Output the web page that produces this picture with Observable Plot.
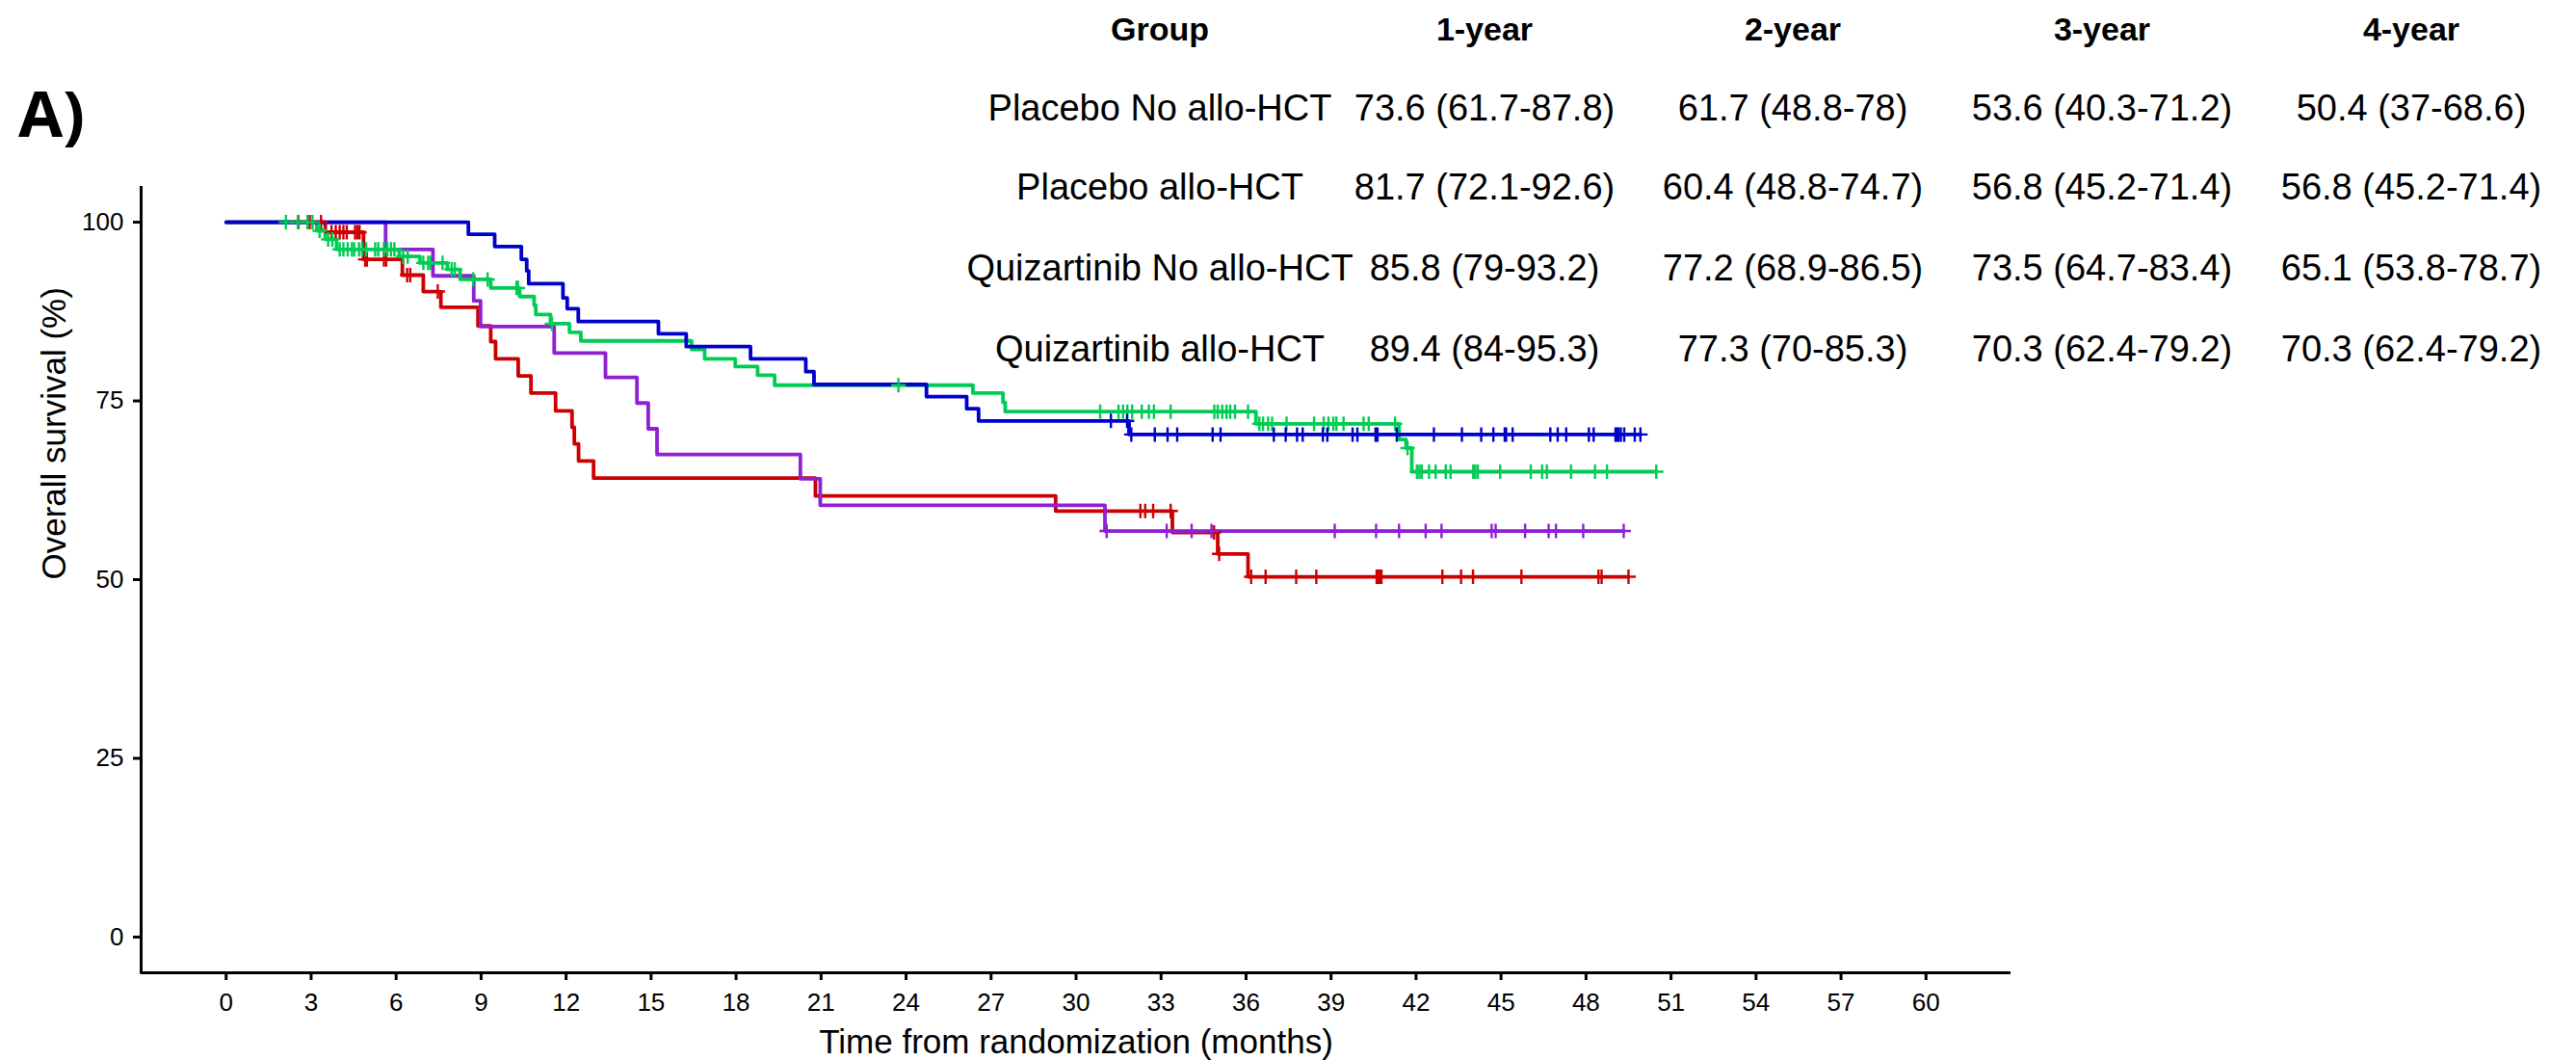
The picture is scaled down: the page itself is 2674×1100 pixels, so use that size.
<!DOCTYPE html>
<html>
<head>
<meta charset="utf-8">
<script src="https://cdn.jsdelivr.net/npm/d3@7"></script>
<script src="https://cdn.jsdelivr.net/npm/@observablehq/plot@0.6"></script>
<style>
  html, body { margin: 0; padding: 0; background: #fff; }
  #chart { width: 2674px; height: 1100px; }
</style>
</head>
<body>
<div id="chart"></div>
<script>
// Kaplan–Meier overall survival by arm and transplant status

const groups = ["Placebo No allo-HCT", "Placebo allo-HCT", "Quizartinib No allo-HCT", "Quizartinib allo-HCT"];
const colors = ["#CC0000", "#8F20D4", "#00CC55", "#0000CC"];

// Event times (months) and survival (%) after each event
const placeboNoHctTimes = [3.5, 4.85, 6.22, 6.96, 7.58, 8.89, 9.34, 9.51, 10.31, 10.76, 11.63, 12.21, 12.29, 12.44, 12.97, 20.8, 29.28, 33.4, 35.0, 36.07];
const placeboNoHctSurv  = [98.6, 94.8, 92.6, 90.3, 88.1, 85.5, 83.3, 80.9, 78.5, 76.1, 73.6, 71.3, 69.0, 66.6, 64.2, 61.7, 59.6, 56.6, 53.6, 50.4];
const placeboNoHctCens  = [2.55, 2.95, 3.35, 3.72, 3.87, 4.01, 4.14, 4.26, 4.55, 4.63, 4.71, 4.91, 4.97, 5.57, 5.65, 6.39, 6.5, 7.47, 32.27, 32.44, 32.72, 33.34, 34.87, 35.05, 36.18, 36.69, 37.77, 38.48, 40.61, 40.67, 40.72, 40.78, 42.93, 43.59, 44.01, 45.72, 48.44, 48.55, 49.5];

const placeboHctTimes = [5.63, 7.3, 8.74, 8.98, 11.58, 13.39, 14.5, 14.9, 15.21, 20.27, 20.97, 31.02];
const placeboHctSurv  = [96.2, 92.5, 89.0, 85.4, 81.7, 78.3, 74.7, 71.1, 67.5, 64.1, 60.4, 56.8];
const placeboHctCens  = [31.08, 33.2, 34.08, 34.78, 39.13, 40.59, 41.4, 42.34, 42.9, 44.67, 44.81, 45.85, 46.68, 46.94, 47.9, 49.33];

const quizNoHctTimes = [3.2, 3.5, 3.9, 6.11, 6.84, 7.81, 8.26, 9.34, 10.36, 10.87, 10.93, 11.45, 12.12, 12.52, 16.43, 16.89, 17.97, 18.76, 19.36, 26.36, 27.42, 27.5, 36.35, 41.4, 41.65, 41.85];
const quizNoHctSurv  = [98.8, 97.6, 96.2, 95.2, 94.3, 93.4, 92.0, 90.8, 89.6, 88.4, 87.1, 85.8, 84.6, 83.4, 82.2, 80.9, 79.8, 78.6, 77.2, 76.1, 74.8, 73.5, 71.8, 69.6, 68.4, 65.1];
const quizNoHctCens  = [2.11, 2.53, 2.87, 3.05, 3.3, 3.6, 3.75, 4.01, 4.14, 4.29, 4.44, 4.52, 4.69, 4.8, 4.94, 5.26, 5.37, 5.57, 5.69, 5.82, 5.94, 6.25, 6.41, 6.96, 7.13, 7.21, 7.64, 7.96, 8.07, 8.72, 9.23, 10.25, 10.3, 11.5, 23.73, 30.85, 31.5, 31.66, 31.81, 31.98, 32.32, 32.57, 32.75, 33.34, 34.88, 35.0, 35.16, 35.31, 35.44, 35.61, 36.07, 36.47, 36.6, 36.78, 36.92, 37.43, 38.4, 38.74, 38.91, 39.08, 39.19, 39.44, 40.15, 40.33, 41.26, 41.7, 42.03, 42.12, 42.2, 42.46, 42.69, 43.05, 43.22, 44.02, 44.09, 44.18, 44.97, 46.05, 46.45, 46.62, 47.47, 48.32, 48.74, 50.48];

const quizHctTimes = [8.55, 9.48, 10.42, 10.61, 10.68, 11.89, 12.04, 12.43, 15.26, 16.24, 18.51, 20.46, 20.75, 24.72, 26.14, 26.56, 31.87];
const quizHctSurv  = [98.3, 96.6, 94.8, 93.2, 91.4, 89.4, 87.9, 86.1, 84.4, 82.6, 80.9, 79.1, 77.3, 75.6, 73.9, 72.2, 70.3];
const quizHctCens  = [31.23, 31.8, 31.95, 32.78, 33.23, 33.57, 34.82, 35.1, 36.98, 37.4, 37.8, 38.0, 38.71, 38.87, 39.76, 39.93, 40.57, 40.64, 41.32, 42.63, 43.62, 44.3, 44.73, 45.13, 45.18, 45.41, 46.74, 47.0, 47.3, 48.1, 48.27, 49.04, 49.1, 49.15, 49.23, 49.35, 49.72, 49.92];

// Landmark survival table: estimate (95% CI)
const tableHeaders = ["Group", "1-year", "2-year", "3-year", "4-year"];
const tableRows = [
  ["Placebo No allo-HCT", "73.6 (61.7-87.8)", "61.7 (48.8-78)", "53.6 (40.3-71.2)", "50.4 (37-68.6)"],
  ["Placebo allo-HCT", "81.7 (72.1-92.6)", "60.4 (48.8-74.7)", "56.8 (45.2-71.4)", "56.8 (45.2-71.4)"],
  ["Quizartinib No allo-HCT", "85.8 (79-93.2)", "77.2 (68.9-86.5)", "73.5 (64.7-83.4)", "65.1 (53.8-78.7)"],
  ["Quizartinib allo-HCT", "89.4 (84-95.3)", "77.3 (70-85.3)", "70.3 (62.4-79.2)", "70.3 (62.4-79.2)"]
];

const xTicks = d3.range(0, 61, 3);
const yTicks = [0, 25, 50, 75, 100];
const xTitle = "Time from randomization (months)";
const yTitle = "Overall survival (%)";
const panelLabel = "A)";

const series = [
  {group: groups[0], times: placeboNoHctTimes, surv: placeboNoHctSurv, cens: placeboNoHctCens},
  {group: groups[1], times: placeboHctTimes, surv: placeboHctSurv, cens: placeboHctCens},
  {group: groups[2], times: quizNoHctTimes, surv: quizNoHctSurv, cens: quizNoHctCens},
  {group: groups[3], times: quizHctTimes, surv: quizHctSurv, cens: quizHctCens}
];

// Step-function rows and censor marks (censor height = survival at that time)
const stepRows = [];
const censorRows = [];
for (const s of series) {
  const last = Math.max(d3.max(s.times), d3.max(s.cens));
  stepRows.push({group: s.group, time: 0, surv: 100});
  s.times.forEach((t, i) => stepRows.push({group: s.group, time: t, surv: s.surv[i]}));
  stepRows.push({group: s.group, time: last, surv: s.surv[s.surv.length - 1]});
  for (const c of s.cens) {
    const k = d3.bisectRight(s.times, c);
    censorRows.push({group: s.group, time: c, surv: k === 0 ? 100 : s.surv[k - 1]});
  }
}

// "+" censor glyph drawn with strokes; arm length equals r
const plusSymbol = {
  draw(context, size) {
    const r = Math.sqrt(size / Math.PI);
    context.moveTo(-r, 0); context.lineTo(r, 0);
    context.moveTo(0, -r); context.lineTo(0, r);
  }
};

const font = "'Liberation Sans', Arial, Helvetica, sans-serif";

const chart = Plot.plot({
  width: 2674,
  height: 1100,
  marginLeft: 146,
  marginRight: 587,
  marginTop: 193,
  marginBottom: 91,
  style: {fontFamily: font, fontSize: "26px", color: "#000", background: "#fff", overflow: "visible"},
  x: {domain: [-3, 63]},
  y: {domain: [-5, 105]},
  color: {domain: groups, range: colors},
  marks: [
    Plot.axisX({ticks: xTicks, tickSize: 8, tickPadding: 13, strokeWidth: 3, fontSize: 26, label: null}),
    Plot.axisY({ticks: yTicks, tickSize: 8, tickPadding: 10, strokeWidth: 3, fontSize: 26, label: null}),
    Plot.ruleX([-3], {strokeWidth: 3, insetBottom: -1.5}),
    Plot.ruleY([-5], {strokeWidth: 3}),
    Plot.line(stepRows, {x: "time", y: "surv", z: "group", stroke: "group", curve: "step-after", strokeWidth: 3.8}),
    Plot.dot(censorRows, {x: "time", y: "surv", stroke: "group", fill: "none", symbol: plusSymbol, r: 7.5, strokeWidth: 2.4}),
    Plot.text([xTitle], {frameAnchor: "bottom", lineAnchor: "bottom", dy: 83, fontSize: 35}),
    Plot.text([yTitle], {frameAnchor: "left", lineAnchor: "bottom", rotate: -90, dx: -79, fontSize: 35})
  ]
});

// Panel label and landmark table
const svg = d3.select(chart);
svg.append("text")
  .attr("x", 19).attr("y", 142)
  .attr("text-anchor", "start")
  .attr("font-family", "'Open Sans', 'Noto Sans', sans-serif")
  .attr("font-weight", 700)
  .attr("font-size", 67)
  .attr("fill", "#000")
  .text(panelLabel);

const colCenters = [1204, 1541, 1861, 2182, 2503];
const rowBaselines = [125, 207, 291, 375];
const table = svg.append("g").attr("font-family", font).attr("fill", "#000").attr("text-anchor", "middle");
tableHeaders.forEach((h, j) => {
  table.append("text").attr("x", colCenters[j]).attr("y", 42)
    .attr("font-size", 34).attr("font-weight", 700).text(h);
});
tableRows.forEach((row, i) => {
  row.forEach((cell, j) => {
    table.append("text").attr("x", colCenters[j]).attr("y", rowBaselines[i])
      .attr("font-size", 38).text(cell);
  });
});

document.getElementById("chart").appendChild(chart);
</script>
</body>
</html>
